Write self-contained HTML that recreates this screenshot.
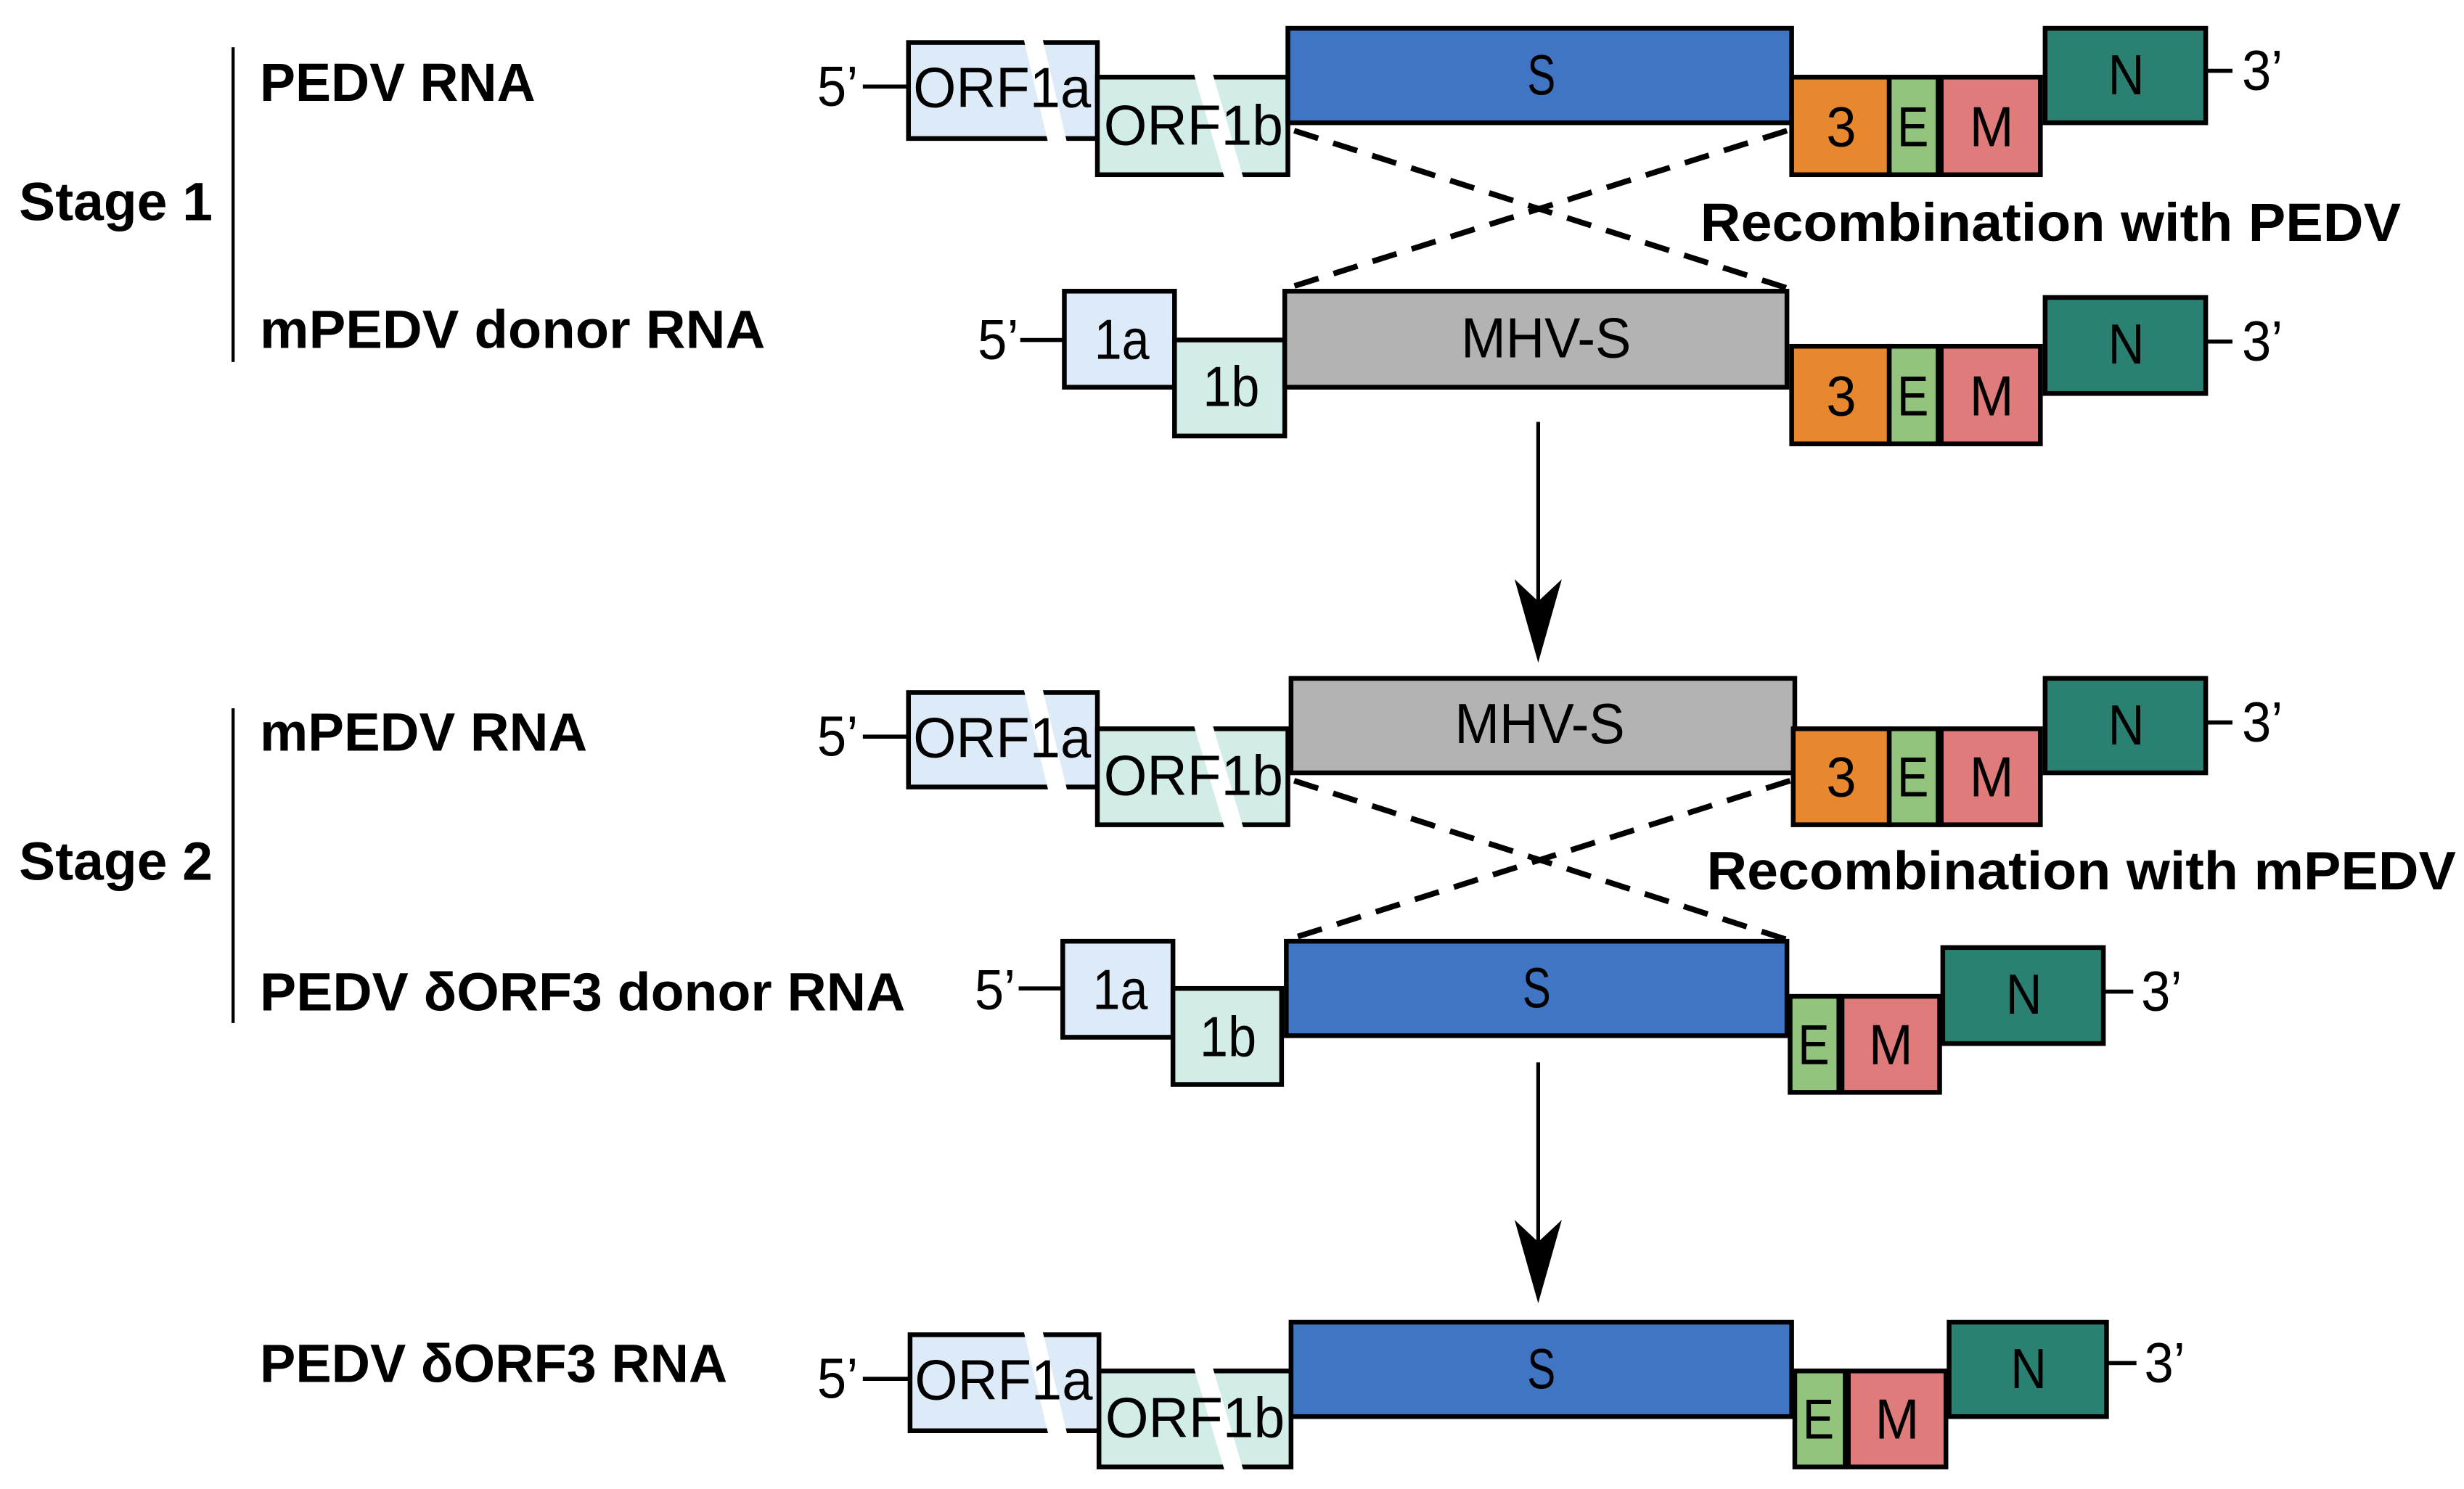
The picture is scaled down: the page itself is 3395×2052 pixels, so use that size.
<!DOCTYPE html>
<html><head><meta charset="utf-8"><style>
html,body{margin:0;padding:0;background:#fff;}
svg{display:block;}
.b{font-family:"Liberation Sans",sans-serif;font-weight:bold;font-size:34px;fill:#000;}
.t{font-family:"Liberation Sans",sans-serif;font-size:36px;fill:#000;}
.r{stroke:#000;stroke-width:3;}
.d{stroke:#000;stroke-width:3.6;stroke-dasharray:16,10;}
</style></head><body>
<svg width="3395" height="2052" viewBox="0 0 1565 946" xmlns="http://www.w3.org/2000/svg">
<rect width="1565" height="946" fill="#fff"/>
<line x1="148" y1="30" x2="148" y2="230" stroke="#000" stroke-width="2"/>
<line x1="148" y1="450" x2="148" y2="650" stroke="#000" stroke-width="2"/>
<text class="b" x="12" y="140" textLength="123" lengthAdjust="spacingAndGlyphs">Stage 1</text>
<text class="b" x="12" y="559" textLength="123" lengthAdjust="spacingAndGlyphs">Stage 2</text>
<text class="b" x="165" y="64" textLength="175" lengthAdjust="spacingAndGlyphs">PEDV RNA</text>
<text class="b" x="165" y="221" textLength="321" lengthAdjust="spacingAndGlyphs">mPEDV donor RNA</text>
<text class="b" x="165" y="477" textLength="208" lengthAdjust="spacingAndGlyphs">mPEDV RNA</text>
<text class="b" x="165" y="642" textLength="410" lengthAdjust="spacingAndGlyphs">PEDV δORF3 donor RNA</text>
<text class="b" x="165" y="878" textLength="297" lengthAdjust="spacingAndGlyphs">PEDV δORF3 RNA</text>
<text class="b" x="1080" y="153" textLength="445" lengthAdjust="spacingAndGlyphs">Recombination with PEDV</text>
<text class="b" x="1084" y="565" textLength="476" lengthAdjust="spacingAndGlyphs">Recombination with mPEDV</text>

<!-- ROW 1 -->
<text class="t" x="519" y="67" textLength="26" lengthAdjust="spacingAndGlyphs">5’</text>
<line x1="548" y1="55" x2="577" y2="55" stroke="#000" stroke-width="2.6"/>
<rect class="r" x="577" y="27" width="120" height="61" fill="#ddebf8"/>
<polygon points="650,24 662,24 678,92 666,92" fill="#fff"/>
<rect class="r" x="697" y="49" width="121" height="62" fill="#d2ede7"/>
<polygon points="758,46 770,46 790,114 778,114" fill="#fff"/>
<text class="t" x="580" y="68" textLength="113" lengthAdjust="spacingAndGlyphs">ORF1a</text>
<text class="t" x="701" y="92" textLength="114" lengthAdjust="spacingAndGlyphs">ORF1b</text>
<rect class="r" x="818" y="18" width="320" height="60" fill="#3f75c2"/>
<text class="t" x="970" y="60" textLength="18" lengthAdjust="spacingAndGlyphs">S</text>
<rect class="r" x="1138" y="49" width="62" height="62" fill="#e8882e"/>
<text class="t" x="1160" y="93" textLength="19" lengthAdjust="spacingAndGlyphs">3</text>
<rect class="r" x="1200" y="49" width="31" height="62" fill="#93c47d"/>
<text class="t" x="1205" y="93" textLength="20" lengthAdjust="spacingAndGlyphs">E</text>
<rect class="r" x="1233" y="49" width="63" height="62" fill="#e07b7c"/>
<text class="t" x="1251" y="93" textLength="28" lengthAdjust="spacingAndGlyphs">M</text>
<rect class="r" x="1299" y="18" width="102" height="60" fill="#2a8071"/>
<text class="t" x="1339" y="60" textLength="23" lengthAdjust="spacingAndGlyphs">N</text>
<line x1="1401" y1="45" x2="1418" y2="45" stroke="#000" stroke-width="2.6"/>
<text class="t" x="1424" y="57" textLength="26" lengthAdjust="spacingAndGlyphs">3’</text>
<line class="d" x1="822" y1="83" x2="1135" y2="183"/>
<line class="d" x1="1135" y1="83" x2="818" y2="183"/>

<!-- ROW 2 -->
<text class="t" x="621" y="228" textLength="26" lengthAdjust="spacingAndGlyphs">5’</text>
<line x1="648" y1="216" x2="676" y2="216" stroke="#000" stroke-width="2.6"/>
<rect class="r" x="676" y="185" width="70" height="61" fill="#ddebf8"/>
<text class="t" x="695" y="228" textLength="35" lengthAdjust="spacingAndGlyphs">1a</text>
<rect class="r" x="746" y="216" width="70" height="61" fill="#d2ede7"/>
<text class="t" x="764" y="258" textLength="36" lengthAdjust="spacingAndGlyphs">1b</text>
<rect class="r" x="816" y="185" width="319" height="61" fill="#b3b3b3"/>
<text class="t" x="928" y="227" textLength="108" lengthAdjust="spacingAndGlyphs">MHV-S</text>
<rect class="r" x="1138" y="220" width="62" height="62" fill="#e8882e"/>
<text class="t" x="1160" y="264" textLength="19" lengthAdjust="spacingAndGlyphs">3</text>
<rect class="r" x="1200" y="220" width="31" height="62" fill="#93c47d"/>
<text class="t" x="1205" y="264" textLength="20" lengthAdjust="spacingAndGlyphs">E</text>
<rect class="r" x="1233" y="220" width="63" height="62" fill="#e07b7c"/>
<text class="t" x="1251" y="264" textLength="28" lengthAdjust="spacingAndGlyphs">M</text>
<rect class="r" x="1299" y="189" width="102" height="61" fill="#2a8071"/>
<text class="t" x="1339" y="231" textLength="23" lengthAdjust="spacingAndGlyphs">N</text>
<line x1="1401" y1="217" x2="1418" y2="217" stroke="#000" stroke-width="2.6"/>
<text class="t" x="1424" y="229" textLength="26" lengthAdjust="spacingAndGlyphs">3’</text>

<line x1="977" y1="268" x2="977" y2="405" stroke="#000" stroke-width="2.4"/>
<polygon points="962,368 977,421 992,368 977,382" fill="#000"/>

<!-- ROW 3 -->
<text class="t" x="519" y="480" textLength="26" lengthAdjust="spacingAndGlyphs">5’</text>
<line x1="548" y1="468" x2="577" y2="468" stroke="#000" stroke-width="2.6"/>
<rect class="r" x="577" y="440" width="120" height="60" fill="#ddebf8"/>
<polygon points="650,437 662,437 678,503 666,503" fill="#fff"/>
<rect class="r" x="697" y="463" width="121" height="61" fill="#d2ede7"/>
<polygon points="758,460 770,460 790,527 778,527" fill="#fff"/>
<text class="t" x="580" y="481" textLength="113" lengthAdjust="spacingAndGlyphs">ORF1a</text>
<text class="t" x="701" y="505" textLength="114" lengthAdjust="spacingAndGlyphs">ORF1b</text>
<rect class="r" x="820" y="431" width="320" height="60" fill="#b3b3b3"/>
<text class="t" x="924" y="472" textLength="108" lengthAdjust="spacingAndGlyphs">MHV-S</text>
<rect class="r" x="1139" y="463" width="61" height="61" fill="#e8882e"/>
<text class="t" x="1160" y="506" textLength="19" lengthAdjust="spacingAndGlyphs">3</text>
<rect class="r" x="1200" y="463" width="31" height="61" fill="#93c47d"/>
<text class="t" x="1205" y="506" textLength="20" lengthAdjust="spacingAndGlyphs">E</text>
<rect class="r" x="1233" y="463" width="63" height="61" fill="#e07b7c"/>
<text class="t" x="1251" y="506" textLength="28" lengthAdjust="spacingAndGlyphs">M</text>
<rect class="r" x="1299" y="431" width="102" height="60" fill="#2a8071"/>
<text class="t" x="1339" y="473" textLength="23" lengthAdjust="spacingAndGlyphs">N</text>
<line x1="1401" y1="459" x2="1418" y2="459" stroke="#000" stroke-width="2.6"/>
<text class="t" x="1424" y="471" textLength="26" lengthAdjust="spacingAndGlyphs">3’</text>
<line class="d" x1="822" y1="496" x2="1135" y2="597"/>
<line class="d" x1="1137" y1="496" x2="818" y2="597"/>

<!-- ROW 4 -->
<text class="t" x="619" y="641" textLength="26" lengthAdjust="spacingAndGlyphs">5’</text>
<line x1="647" y1="628" x2="675" y2="628" stroke="#000" stroke-width="2.6"/>
<rect class="r" x="675" y="598" width="70" height="61" fill="#ddebf8"/>
<text class="t" x="694" y="641" textLength="35" lengthAdjust="spacingAndGlyphs">1a</text>
<rect class="r" x="745" y="628" width="69" height="61" fill="#d2ede7"/>
<text class="t" x="762" y="671" textLength="36" lengthAdjust="spacingAndGlyphs">1b</text>
<rect class="r" x="817" y="598" width="318" height="60" fill="#3f75c2"/>
<text class="t" x="967" y="640" textLength="18" lengthAdjust="spacingAndGlyphs">S</text>
<rect class="r" x="1137" y="633" width="31" height="61" fill="#93c47d"/>
<text class="t" x="1142" y="676" textLength="20" lengthAdjust="spacingAndGlyphs">E</text>
<rect class="r" x="1170" y="633" width="62" height="61" fill="#e07b7c"/>
<text class="t" x="1187" y="676" textLength="28" lengthAdjust="spacingAndGlyphs">M</text>
<rect class="r" x="1234" y="602" width="102" height="61" fill="#2a8071"/>
<text class="t" x="1274" y="644" textLength="23" lengthAdjust="spacingAndGlyphs">N</text>
<line x1="1336" y1="630" x2="1355" y2="630" stroke="#000" stroke-width="2.6"/>
<text class="t" x="1360" y="642" textLength="26" lengthAdjust="spacingAndGlyphs">3’</text>

<line x1="977" y1="675" x2="977" y2="812" stroke="#000" stroke-width="2.4"/>
<polygon points="962,775 977,828 992,775 977,789" fill="#000"/>

<!-- ROW 5 -->
<text class="t" x="519" y="888" textLength="26" lengthAdjust="spacingAndGlyphs">5’</text>
<line x1="548" y1="876" x2="578" y2="876" stroke="#000" stroke-width="2.6"/>
<rect class="r" x="578" y="848" width="120" height="61" fill="#ddebf8"/>
<polygon points="650,845 662,845 678,912 666,912" fill="#fff"/>
<rect class="r" x="698" y="871" width="122" height="61" fill="#d2ede7"/>
<polygon points="758,868 770,868 790,935 778,935" fill="#fff"/>
<text class="t" x="581" y="889" textLength="113" lengthAdjust="spacingAndGlyphs">ORF1a</text>
<text class="t" x="702" y="913" textLength="114" lengthAdjust="spacingAndGlyphs">ORF1b</text>
<rect class="r" x="820" y="840" width="318" height="60" fill="#3f75c2"/>
<text class="t" x="970" y="882" textLength="18" lengthAdjust="spacingAndGlyphs">S</text>
<rect class="r" x="1140" y="871" width="32" height="61" fill="#93c47d"/>
<text class="t" x="1145" y="914" textLength="20" lengthAdjust="spacingAndGlyphs">E</text>
<rect class="r" x="1174" y="871" width="62" height="61" fill="#e07b7c"/>
<text class="t" x="1191" y="914" textLength="28" lengthAdjust="spacingAndGlyphs">M</text>
<rect class="r" x="1238" y="840" width="100" height="60" fill="#2a8071"/>
<text class="t" x="1277" y="882" textLength="23" lengthAdjust="spacingAndGlyphs">N</text>
<line x1="1338" y1="866" x2="1357" y2="866" stroke="#000" stroke-width="2.6"/>
<text class="t" x="1362" y="878" textLength="26" lengthAdjust="spacingAndGlyphs">3’</text>
</svg>
</body></html>
